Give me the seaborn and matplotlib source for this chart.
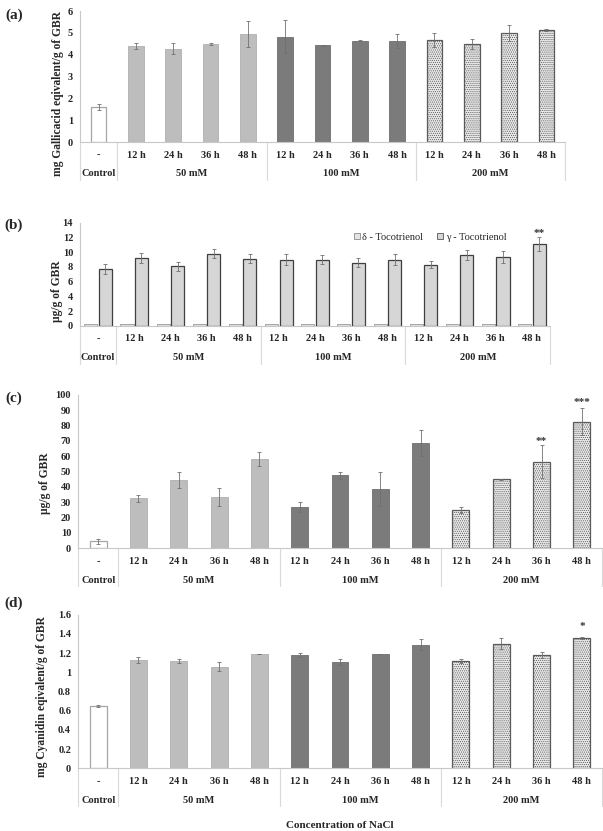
import numpy as np
import pandas as pd
import matplotlib
matplotlib.use("Agg")
import matplotlib.pyplot as plt
import matplotlib.transforms as mtransforms
from matplotlib.patches import Patch
import seaborn as sns

# ---------------- data ----------------
time_labels = ["-", "12 h", "24 h", "36 h", "48 h", "12 h", "24 h", "36 h", "48 h",
               "12 h", "24 h", "36 h", "48 h"]
bar_groups = ["Control", "50 mM", "50 mM", "50 mM", "50 mM", "100 mM", "100 mM", "100 mM",
              "100 mM", "200 mM", "200 mM", "200 mM", "200 mM"]
group_names = ["Control", "50 mM", "100 mM", "200 mM"]

# (a) total phenolics
phenolic_mean = [1.60, 4.40, 4.28, 4.47, 4.93, 4.83, 4.42, 4.63, 4.62, 4.65, 4.48, 5.00, 5.13]
phenolic_err = [0.15, 0.12, 0.25, 0.05, 0.60, 0.75, 0.03, 0.02, 0.33, 0.32, 0.23, 0.36, 0.05]

# (b) tocotrienols
toco_names = ["δ - Tocotrienol", "γ - Tocotrienol"]
delta_toco = [0.30, 0.30, 0.30, 0.32, 0.30, 0.30, 0.30, 0.29, 0.29, 0.30, 0.30, 0.30, 0.31]
gamma_toco = [7.7, 9.2, 8.1, 9.8, 9.1, 9.0, 9.0, 8.6, 9.0, 8.3, 9.6, 9.3, 11.1]
gamma_err = [0.65, 0.65, 0.6, 0.65, 0.6, 0.7, 0.6, 0.6, 0.7, 0.5, 0.7, 0.8, 0.9]

# (c)
panel_c_mean = [4.5, 32.5, 44.5, 33.5, 58.5, 27.0, 47.5, 38.5, 68.5, 25.0, 45.0, 56.6, 82.5]
panel_c_err = [1.5, 2.0, 5.0, 6.0, 4.5, 3.5, 2.5, 11.0, 8.5, 2.0, 0.5, 10.8, 8.7]

# (d) anthocyanins
cyanidin_mean = [0.65, 1.13, 1.12, 1.06, 1.19, 1.18, 1.11, 1.19, 1.29, 1.12, 1.30, 1.18, 1.36]
cyanidin_err = [0.01, 0.03, 0.02, 0.05, 0.00, 0.02, 0.03, 0.00, 0.06, 0.02, 0.06, 0.03, 0.01]

# significance marks: (index, y position, text)
stars_b = [(12, 12.6, "**")]
stars_c = [(11, 69.5, "**"), (12, 95.0, "***")]
stars_d = [(12, 1.48, "*")]

# ---------------- style ----------------
sns.set_style("white")
plt.rcParams["font.family"] = ["Liberation Serif", "DejaVu Serif"]
plt.rcParams["hatch.linewidth"] = 0.5

W, H = 603, 831
fig = plt.figure(figsize=(W / 100, H / 100), dpi=100)


def add_axes_px(left, right, top, bottom):
    return fig.add_axes([left / W, 1 - bottom / H, (right - left) / W, (bottom - top) / H])


group_fill = {"Control": "#ffffff", "50 mM": "#bdbdbd", "100 mM": "#7b7b7b", "200 mM": "#e9e9e9"}
group_edge = {"Control": "#a6a6a6", "50 mM": "#b0b0b0", "100 mM": "#6e6e6e", "200 mM": "#5a5a5a"}
keys = [f"{g} {t}" for g, t in zip(bar_groups, time_labels)]


def style_axes(ax, ymax, ticks):
    ax.set_xlim(-0.5, len(keys) - 0.5)
    ax.set_ylim(0, ymax)
    ax.set_yticks(ticks)
    ax.set_yticklabels([f"{t:g}" for t in ticks], fontweight="bold", fontsize=7.5)
    ax.set_xticks([])
    ax.set_xlabel("")
    ax.set_ylabel("")
    for s in ["top", "right"]:
        ax.spines[s].set_visible(False)
    for s in ["left", "bottom"]:
        ax.spines[s].set_color("#c8c8c8")
        ax.spines[s].set_linewidth(0.8)
    ax.tick_params(axis="y", length=3, width=0.6, color="#c8c8c8", pad=2)
    ax.patch.set_alpha(0)


def draw_table(ax, ax_h_px):
    trans = mtransforms.blended_transform_factory(ax.transData, ax.transAxes)
    depth = 38 / ax_h_px
    idx = np.arange(len(keys))
    bounds = [-0.5]
    for i in range(1, len(bar_groups)):
        if bar_groups[i] != bar_groups[i - 1]:
            bounds.append(i - 0.5)
    bounds.append(len(keys) - 0.5)
    for b in bounds:
        ax.plot([b, b], [0, -depth], transform=trans, clip_on=False, color="#d9d9d9", lw=0.8)
    for i, lab in enumerate(time_labels):
        ax.annotate(lab, xy=(i, 0), xycoords=trans, xytext=(0, -13), textcoords="offset pixels",
                    ha="center", va="center", fontweight="bold", fontsize=7.5)
    for g in group_names:
        c = idx[np.array(bar_groups) == g].mean()
        ax.annotate(g, xy=(c, 0), xycoords=trans, xytext=(0, -32), textcoords="offset pixels",
                    ha="center", va="center", fontweight="bold", fontsize=7.5)


def single_panel(ax, values, errs, ymax, ticks, ax_h_px, stars):
    df = pd.DataFrame({"key": keys, "value": values, "group": bar_groups})
    sns.barplot(data=df, x="key", y="value", hue="group", order=keys, hue_order=group_names,
                palette=group_fill, dodge=False, width=0.42, legend=False, errorbar=None, ax=ax)
    for g, cont in zip(group_names, ax.containers):
        for bar in cont:
            bar.set_facecolor(group_fill[g])
            bar.set_edgecolor(group_edge[g])
            bar.set_linewidth(0.9 if g in ("200 mM", "Control") else 0.6)
            if g == "200 mM":
                bar.set_hatch("........")
    ax.errorbar(np.arange(len(keys)), values, yerr=errs, fmt="none", ecolor="#707070",
                elinewidth=0.6, capsize=1.6, capthick=0.6, zorder=5)
    for i, y, s in stars:
        ax.text(i, y, s, ha="center", va="center", fontsize=8, fontweight="bold", color="#333333")
    style_axes(ax, ymax, ticks)
    draw_table(ax, ax_h_px)


# ---------------- (a) ----------------
ax_a = add_axes_px(80, 565, 11, 142)
single_panel(ax_a, phenolic_mean, phenolic_err, 6, np.arange(0, 7, 1), 131, [])

# ---------------- (b) ----------------
ax_b = add_axes_px(80, 550, 222.7, 326)
df_b = pd.DataFrame({
    "key": keys * 2,
    "value": delta_toco + gamma_toco,
    "toco": [toco_names[0]] * len(keys) + [toco_names[1]] * len(keys),
})
sns.barplot(data=df_b, x="key", y="value", hue="toco", order=keys, hue_order=toco_names,
            palette=["#dedede", "#d6d6d6"], width=0.8, gap=0.1, legend=False, errorbar=None, ax=ax_b)
for bar in ax_b.containers[0]:
    bar.set_edgecolor("#9a9a9a")
    bar.set_linewidth(0.6)
for bar in ax_b.containers[1]:
    bar.set_edgecolor("#3f3f3f")
    bar.set_linewidth(0.9)
gx = [bar.get_x() + bar.get_width() / 2 for bar in ax_b.containers[1]]
ax_b.errorbar(gx, gamma_toco, yerr=gamma_err, fmt="none", ecolor="#707070",
              elinewidth=0.6, capsize=1.6, capthick=0.6, zorder=5)
for i, y, s in stars_b:
    ax_b.text(gx[i], y, s, ha="center", va="center", fontsize=8, fontweight="bold", color="#333333")
style_axes(ax_b, 14, np.arange(0, 15, 2))
draw_table(ax_b, 103.3)
handles = [Patch(facecolor="#e4e4e4", edgecolor="#8a8a8a", lw=0.6),
           Patch(facecolor="#d6d6d6", edgecolor="#555555", lw=0.6)]
fig.legend(handles, toco_names, loc="center", bbox_to_anchor=(430 / W, 1 - 237 / H),
           ncol=2, frameon=False, fontsize=7.5, handlelength=0.6, handleheight=0.6,
           handletextpad=0.25, columnspacing=1.3)

# ---------------- (c) ----------------
ax_c = add_axes_px(78, 602, 395, 548.3)
single_panel(ax_c, panel_c_mean, panel_c_err, 100, np.arange(0, 101, 10), 153.3, stars_c)

# ---------------- (d) ----------------
ax_d = add_axes_px(78, 602, 614.8, 768.3)
single_panel(ax_d, cyanidin_mean, cyanidin_err, 1.6, np.round(np.arange(0, 1.61, 0.2), 1), 153.5, stars_d)

# ---------------- labels ----------------
for lab, py in [("(a)", 15), ("(b)", 225), ("(c)", 398), ("(d)", 603)]:
    fig.text(14 / W, 1 - py / H, lab, ha="center", va="center", fontsize=11, fontweight="bold")

ylabels = [("mg Gallicacid eqivalent/g of GBR", 58, 93),
           ("µg/g of GBR", 57, 291),
           ("µg/g of GBR", 45, 483),
           ("mg Cyanidin eqivalent/g of GBR", 42, 697)]
for txt, px, py in ylabels:
    fig.text(px / W, 1 - py / H, txt, rotation=90, ha="center", va="center",
             fontsize=8.3, fontweight="bold")

fig.text(340 / W, 1 - 829.5 / H, "Concentration of NaCl", ha="center", va="bottom",
         fontsize=8, fontweight="bold")

fig.savefig("out.png", dpi=100)
